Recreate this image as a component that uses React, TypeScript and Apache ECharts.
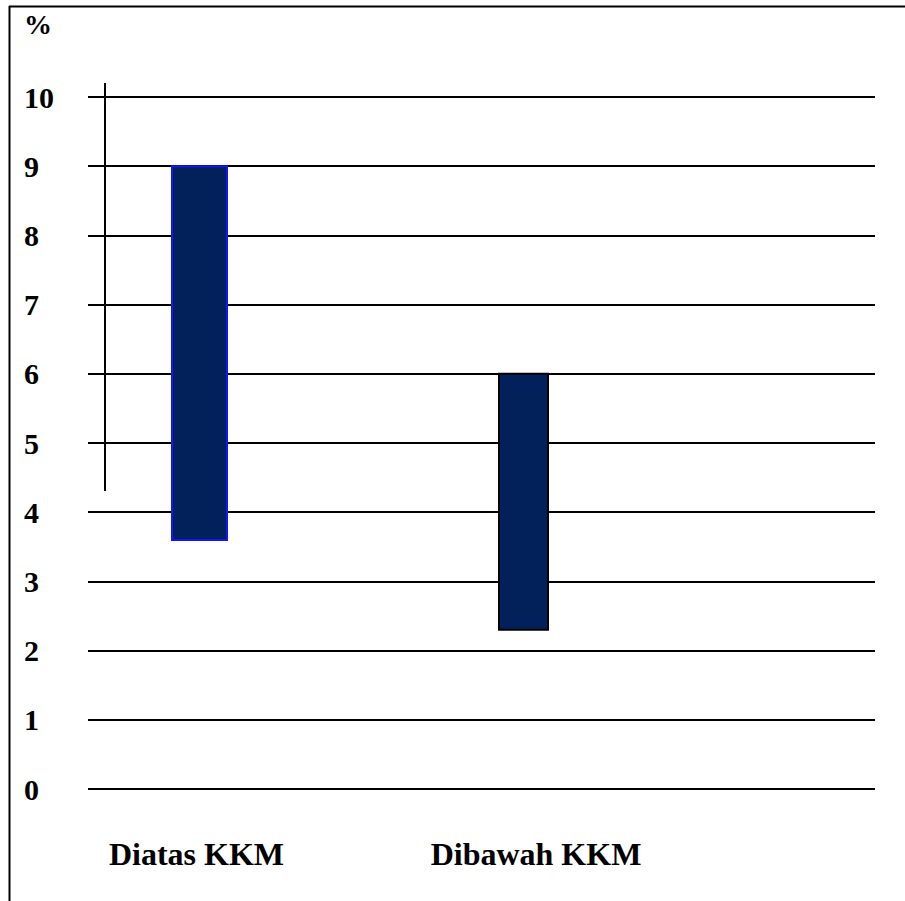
import React, { useEffect, useRef } from "react";
import * as echarts from "echarts";

const categories = ["Diatas KKM", "Dibawah KKM"];
const lowValues = [3.6, 2.3];
const highValues = [9, 6];
const yTicks = [0, 1, 2, 3, 4, 5, 6, 7, 8, 9, 10];

const BAR_WIDTHS = [55, 49];
const BAR_FILL = "#022059";
const BAR_STROKES = ["#1414ff", "#000000"];
const FONT = "Liberation Serif";

export default function App() {
  const ref = useRef<HTMLDivElement>(null);
  useEffect(() => {
    if (!ref.current) return;
    const chart = echarts.init(ref.current, null, { renderer: "svg" });
    const data = categories.map((c, i) => [i, lowValues[i], highValues[i]]);
    chart.setOption({
      animation: false,
      backgroundColor: "#ffffff",
      textStyle: { fontFamily: FONT },
      grid: [
        { left: 88, right: 30, top: 97, bottom: 112 },
        { left: 37.5, right: 219.5, top: 97, bottom: 112 },
      ],
      xAxis: [
        { type: "value", gridIndex: 0, show: false, min: 0, max: 1 },
        {
          type: "category",
          gridIndex: 1,
          data: categories,
          axisLine: { show: false },
          axisTick: { show: false },
          axisLabel: {
            interval: 0,
            hideOverlap: false,
            margin: 49,
            fontSize: 32,
            fontWeight: "bold",
            fontFamily: FONT,
            color: "#000",
            formatter: (v: string) => (v === categories[1] ? `{b|${v}}` : `{a|${v}}`),
            rich: {
              a: { fontSize: 32, fontWeight: "bold", fontFamily: FONT, color: "#000", padding: [0, 6, 0, 0] },
              b: { fontSize: 32, fontWeight: "bold", fontFamily: FONT, color: "#000", padding: [0, 0, 0, 25] },
            },
          },
        },
      ],
      yAxis: [
        {
          type: "value",
          gridIndex: 0,
          min: yTicks[0],
          max: yTicks[yTicks.length - 1],
          interval: 1,
          axisLine: { show: false },
          axisTick: { show: false },
          splitLine: { show: true, lineStyle: { color: "#000", width: 2 } },
          axisLabel: {
            align: "left",
            margin: 64,
            fontSize: 30,
            fontWeight: "bold",
            fontFamily: FONT,
            color: "#000",
          },
        },
        {
          type: "value",
          gridIndex: 1,
          min: yTicks[0],
          max: yTicks[yTicks.length - 1],
          show: false,
        },
      ],
      graphic: [
        { type: "line", shape: { x1: 9.5, y1: 6, x2: 9.5, y2: 901 }, style: { stroke: "#000", lineWidth: 2 } },
        { type: "line", shape: { x1: 9, y1: 6.5, x2: 905, y2: 6.5 }, style: { stroke: "#000", lineWidth: 2 } },
        { type: "line", shape: { x1: 105, y1: 83, x2: 105, y2: 491 }, style: { stroke: "#000", lineWidth: 2 } },
        {
          type: "text",
          x: 24,
          y: 10,
          style: { text: "%", fontSize: 28, fontWeight: "bold", fontFamily: FONT, fill: "#000" },
        },
      ],
      series: [
        {
          type: "custom",
          xAxisIndex: 1,
          yAxisIndex: 1,
          data,
          renderItem: (params: any, api: any) => {
            const x = api.value(0);
            const lo = api.value(1);
            const hi = api.value(2);
            const top = api.coord([x, hi]);
            const bot = api.coord([x, lo]);
            const w = BAR_WIDTHS[params.dataIndex];
            return {
              type: "rect",
              shape: { x: top[0] - w / 2, y: top[1], width: w, height: bot[1] - top[1] },
              style: { fill: BAR_FILL, stroke: BAR_STROKES[params.dataIndex], lineWidth: 2 },
            };
          },
        },
      ],
    });
    return () => chart.dispose();
  }, []);
  return (
    <div
      ref={ref}
      style={{ position: "absolute", left: 0, top: 0, width: 905, height: 901 }}
    />
  );
}
